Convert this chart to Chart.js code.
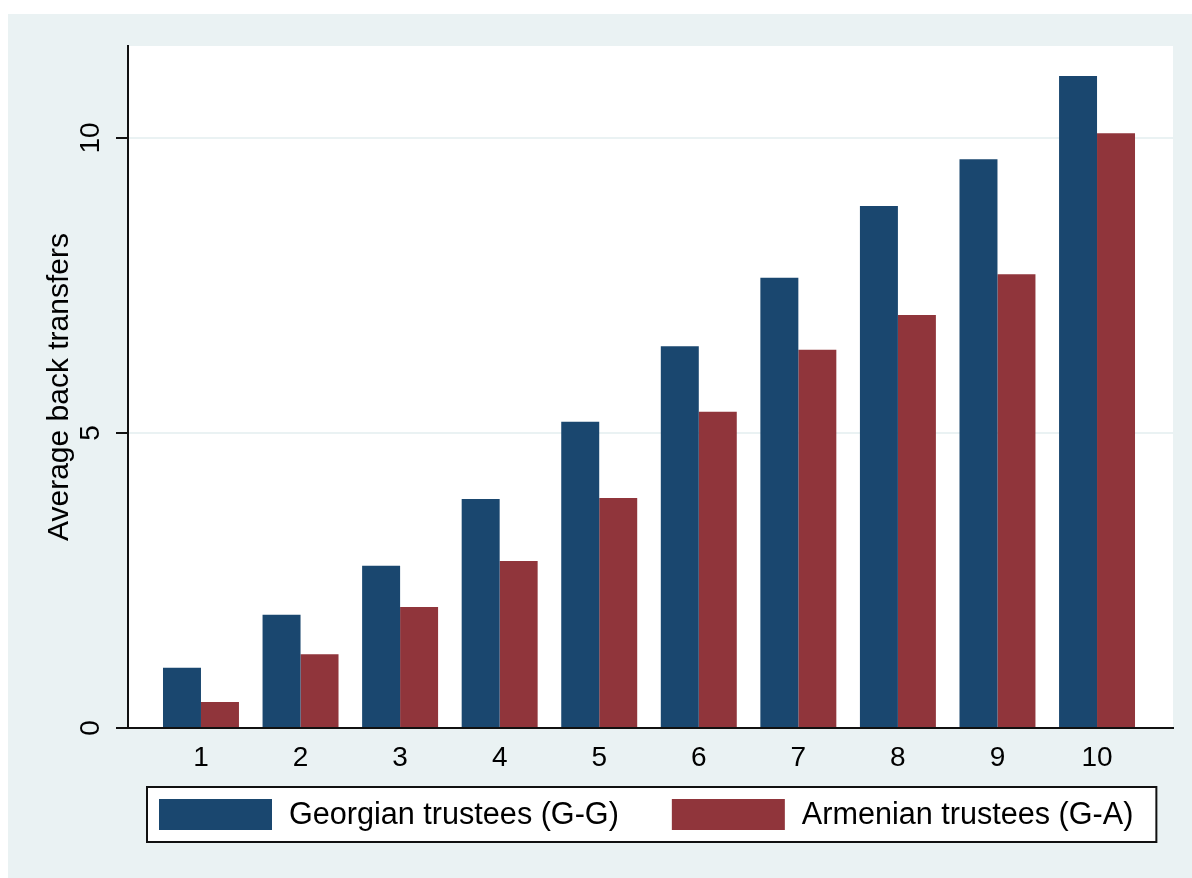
<!DOCTYPE html>
<html>
<head>
<meta charset="utf-8">
<script src="https://cdn.jsdelivr.net/npm/chart.js@4.4.1/dist/chart.umd.min.js"></script>
<style>
    html, body { margin: 0; padding: 0; background: #ffffff; }
    #wrap { position: absolute; left: 8px; top: 14px; width: 1184px; height: 864px; background: #eaf2f3; }
</style>
</head>
<body>
<div id="wrap"><canvas id="canvas"></canvas></div>
<script>
    // values
    var rounds = [1, 2, 3, 4, 5, 6, 7, 8, 9, 10];
    var georgian = [1.02, 1.92, 2.75, 3.88, 5.19, 6.47, 7.63, 8.85, 9.64, 11.05];
    var armenian = [0.44, 1.25, 2.05, 2.83, 3.90, 5.36, 6.41, 7.00, 7.69, 10.08];
    var yTicks = [0, 5, 10];
    var seriesNames = ['Georgian trustees (G-G)', 'Armenian trustees (G-A)'];

    var FONT = '"Liberation Sans", Arial, sans-serif';
    var BLUE = '#1a476f';
    var RED = '#90353b';
    var LIGHT = '#eaf2f3';

    function points(values) {
        return values.map(function (v, i) { return {x: rounds[i], y: v}; });
    }

    // white plot region
    var plotBackground = {
        id: 'plotBackground',
        beforeDraw: function (chart) {
            var a = chart.chartArea;
            var ctx = chart.ctx;
            ctx.save();
            ctx.fillStyle = '#ffffff';
            ctx.fillRect(a.left, a.top, a.right - a.left, a.bottom - a.top);
            ctx.restore();
        }
    };

    // stata style boxed legend under the plot
    var boxedLegend = {
        id: 'boxedLegend',
        afterDraw: function (chart) {
            var a = chart.chartArea;
            var ctx = chart.ctx;
            var sw = 113, sh = 31, gap = 17, itemGap = 53;
            var boxLeft = a.left + 19, boxTop = a.bottom + 59, boxH = 55;
            ctx.save();
            ctx.font = '30.6px ' + FONT;
            var x = boxLeft + 12;
            var items = chart.data.datasets.map(function (ds) {
                var it = {x: x, label: ds.label, color: ds.backgroundColor};
                x += sw + gap + ctx.measureText(ds.label).width + itemGap;
                return it;
            });
            var boxW = (x - itemGap) - boxLeft + 23;
            ctx.fillStyle = '#ffffff';
            ctx.fillRect(boxLeft, boxTop, boxW, boxH);
            ctx.strokeStyle = '#111111';
            ctx.lineWidth = 2;
            ctx.strokeRect(boxLeft, boxTop, boxW, boxH);
            items.forEach(function (it) {
                ctx.fillStyle = it.color;
                ctx.fillRect(it.x, boxTop + 12, sw, sh);
                ctx.fillStyle = '#000000';
                ctx.textBaseline = 'middle';
                ctx.fillText(it.label, it.x + sw + gap, boxTop + 12 + sh / 2 + 1);
            });
            ctx.restore();
        }
    };

    var ctx = document.getElementById('canvas').getContext('2d');
    window.myBar = new Chart(ctx, {
        type: 'bar',
        data: {
            datasets: [{
                label: seriesNames[0],
                backgroundColor: BLUE,
                borderWidth: 0,
                data: points(georgian)
            }, {
                label: seriesNames[1],
                backgroundColor: RED,
                borderWidth: 0,
                data: points(armenian)
            }]
        },
        options: {
            responsive: true,
            maintainAspectRatio: false,
            animation: false,
            categoryPercentage: 0.763,
            barPercentage: 1.0,
            layout: {padding: {left: 0, right: 19, top: 32, bottom: 0}},
            plugins: {
                legend: {display: false},
                tooltip: {enabled: false}
            },
            scales: {
                x: {
                    type: 'linear',
                    offset: false,
                    min: 0.267,
                    max: 10.763,
                    afterBuildTicks: function (axis) {
                        axis.ticks = rounds.map(function (v) { return {value: v}; });
                    },
                    afterFit: function (axis) { axis.height = 150; },
                    grid: {display: false, drawTicks: false, offset: false},
                    border: {display: true, color: '#111111', width: 2},
                    ticks: {
                        color: '#000000',
                        padding: 13,
                        maxRotation: 0,
                        font: {family: FONT, size: 28}
                    }
                },
                y: {
                    min: 0,
                    max: 11.56,
                    afterBuildTicks: function (axis) {
                        axis.ticks = yTicks.map(function (v) { return {value: v}; });
                    },
                    afterFit: function (axis) { axis.width = 120; },
                    grid: {
                        color: LIGHT,
                        lineWidth: 2,
                        tickColor: '#111111',
                        tickWidth: 2,
                        tickLength: 12
                    },
                    border: {display: true, color: '#111111', width: 2},
                    ticks: {
                        color: '#000000',
                        padding: 9,
                        minRotation: 90,
                        maxRotation: 90,
                        crossAlign: 'center',
                        font: {family: FONT, size: 28}
                    },
                    title: {
                        display: true,
                        text: 'Average back transfers',
                        color: '#000000',
                        padding: {top: 34, bottom: 0},
                        font: {family: FONT, size: 30}
                    }
                }
            }
        },
        plugins: [plotBackground, boxedLegend]
    });
</script>
</body>
</html>
